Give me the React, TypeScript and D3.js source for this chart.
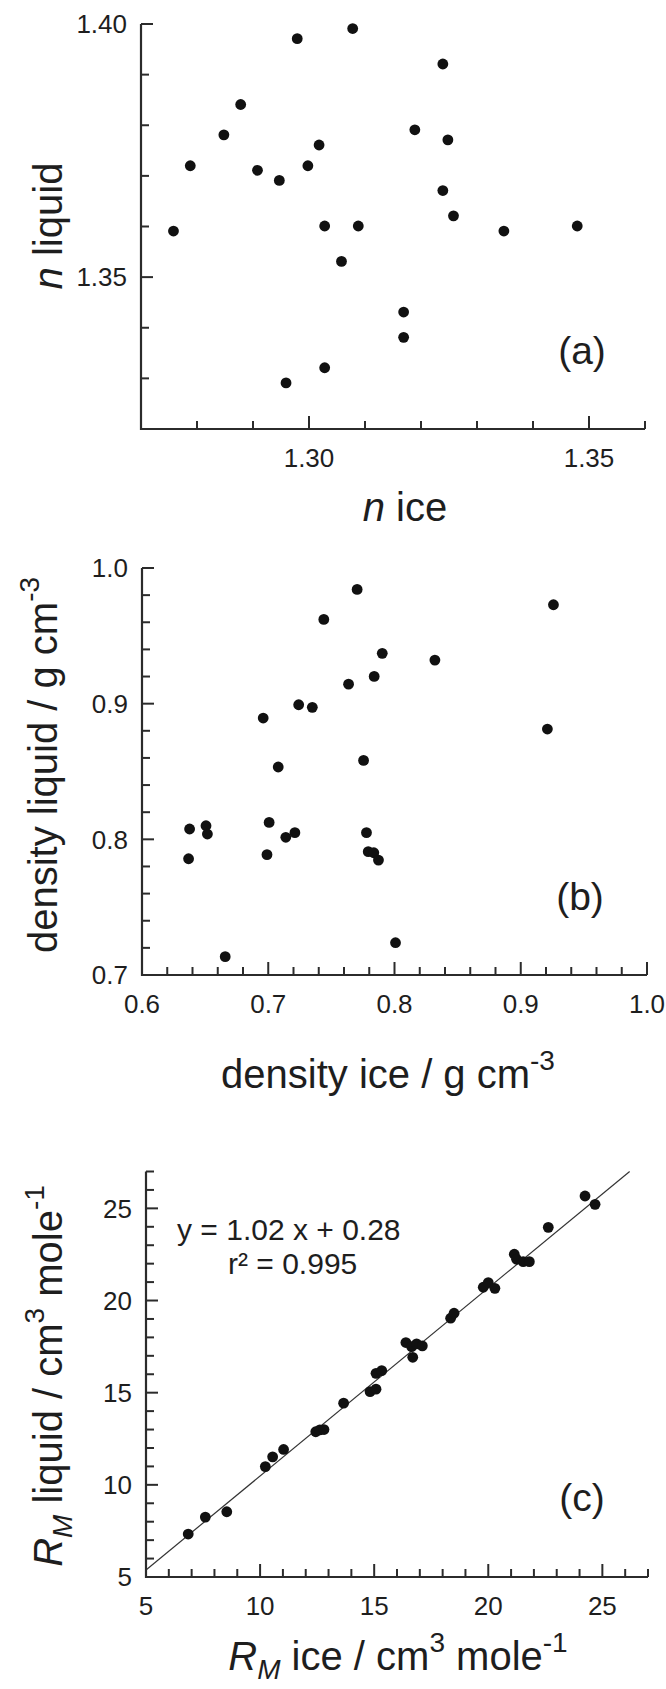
import React from "react";
import * as d3 from "d3";

// ---------- data ----------
// Panel (a): refractive index, ice vs liquid
const nIce = [1.2758, 1.2788, 1.2848, 1.2878, 1.2908, 1.2947, 1.2979, 1.2959, 1.2998, 1.3018, 1.3028, 1.3028, 1.3058, 1.3078, 1.3088, 1.3169, 1.3169, 1.3189, 1.3239, 1.3248, 1.3239, 1.3258, 1.3348, 1.3479];
const nLiquid = [1.3591, 1.3720, 1.3781, 1.3841, 1.3711, 1.3691, 1.3971, 1.3291, 1.3720, 1.3761, 1.3601, 1.3321, 1.3531, 1.3991, 1.3601, 1.3431, 1.3381, 1.3791, 1.3921, 1.3771, 1.3671, 1.3621, 1.3591, 1.3601];

// Panel (b): density, ice vs liquid
const densIce = [0.7704, 0.9259, 0.7440, 0.7903, 0.8320, 0.7839, 0.7636, 0.7241, 0.7349, 0.6960, 0.9211, 0.7079, 0.7755, 0.6377, 0.6369, 0.6507, 0.6518, 0.6659, 0.7007, 0.6990, 0.7139, 0.7211, 0.7778, 0.7792, 0.7836, 0.7873, 0.8008];
const densLiquid = [0.9842, 0.9729, 0.9621, 0.9371, 0.9321, 0.9201, 0.9144, 0.8992, 0.8973, 0.8894, 0.8813, 0.8533, 0.8582, 0.8076, 0.7857, 0.8100, 0.8039, 0.7135, 0.8125, 0.7887, 0.8015, 0.8049, 0.8049, 0.7909, 0.7901, 0.7847, 0.7238];

// Panel (c): molar refraction, ice vs liquid
const rmIce = [6.85, 7.60, 8.54, 10.23, 10.55, 11.03, 12.44, 12.62, 12.80, 13.66, 14.82, 15.08, 15.08, 15.33, 16.39, 16.64, 16.69, 16.86, 17.11, 18.35, 18.50, 19.78, 20.00, 20.29, 21.14, 21.24, 21.53, 21.80, 22.63, 24.24, 24.68];
const rmLiquid = [7.33, 8.25, 8.54, 10.99, 11.52, 11.92, 12.88, 12.98, 13.00, 14.43, 15.06, 15.19, 16.05, 16.20, 17.72, 17.50, 16.92, 17.65, 17.54, 19.04, 19.31, 20.72, 20.97, 20.66, 22.51, 22.24, 22.11, 22.11, 23.97, 25.67, 25.22];

// regression
const fitSlope = 1.02;
const fitIntercept = 0.28;
const fitR2 = "0.995";

// tick labels
const aXTicks = [1.30, 1.35];
const aYTicks = [1.35, 1.40];
const bXTicks = [0.6, 0.7, 0.8, 0.9, 1.0];
const bYTicks = [0.7, 0.8, 0.9, 1.0];
const cXTicks = [5, 10, 15, 20, 25];
const cYTicks = [5, 10, 15, 20, 25];

// ---------- style ----------
const FONT = "'Liberation Sans', Arial, Helvetica, sans-serif";
const INK = "#1e1e1e";
const AXIS = "#2b2b2b";
const TICK_FS = 26;
const TITLE_FS = 40;
const SUP_FS = 28;
const R = 5.4;

function frange(a: number, b: number, step: number) {
  const out: number[] = [];
  const n = Math.round((b - a) / step);
  for (let i = 0; i <= n; i++) out.push(+(a + i * step).toFixed(6));
  return out;
}

type PanelProps = {
  x: d3.ScaleLinear<number, number>;
  y: d3.ScaleLinear<number, number>;
  xMinor: number[];
  yMinor: number[];
  xMajor: number[];
  yMajor: number[];
  fmtX: (v: number) => string;
  fmtY: (v: number) => string;
  xs: number[];
  ys: number[];
  label: string;
  labelPos: [number, number];
};

function Panel(p: PanelProps) {
  const [x0, x1] = p.x.range();
  const [y0, y1] = p.y.range();
  const isMajor = (arr: number[], v: number) => arr.some((m) => Math.abs(m - v) < 1e-6);
  return (
    <g>
      {p.xs.map((d, i) => (
        <circle key={"pt" + i} cx={p.x(d)} cy={p.y(p.ys[i])} r={R} fill="#111" />
      ))}
      <line x1={x0} x2={x0} y1={y0 + 1} y2={y1} stroke={AXIS} strokeWidth={2.2} />
      <line x1={x0 - 1} x2={x1} y1={y0} y2={y0} stroke={AXIS} strokeWidth={2.2} />
      {p.yMinor.map((v, i) => {
        const L = isMajor(p.yMajor, v) ? 12 : 8;
        return <line key={"yt" + i} x1={x0} x2={x0 + L} y1={p.y(v)} y2={p.y(v)} stroke={AXIS} strokeWidth={2} />;
      })}
      {p.xMinor.map((v, i) => {
        const L = isMajor(p.xMajor, v) ? 13 : 8;
        return <line key={"xt" + i} x1={p.x(v)} x2={p.x(v)} y1={y0} y2={y0 - L} stroke={AXIS} strokeWidth={2} />;
      })}
      {p.yMajor.map((v, i) => (
        <text key={"yl" + i} x={x0 - 14} y={p.y(v)} dy="0.36em" textAnchor="end" fontSize={TICK_FS} fill={INK} fontFamily={FONT}>
          {p.fmtY(v)}
        </text>
      ))}
      {p.xMajor.map((v, i) => (
        <text key={"xl" + i} x={p.x(v)} y={y0 + 38} textAnchor="middle" fontSize={TICK_FS} fill={INK} fontFamily={FONT}>
          {p.fmtX(v)}
        </text>
      ))}
      <text x={p.labelPos[0]} y={p.labelPos[1]} dy="0.36em" textAnchor="middle" fontSize={39} fill={INK} fontFamily={FONT}>
        {p.label}
      </text>
    </g>
  );
}

export default function App() {
  // panel (a)
  const xa = d3.scaleLinear().domain([1.27, 1.36]).range([141, 645]);
  const ya = d3.scaleLinear().domain([1.32, 1.40]).range([429, 24]);
  // panel (b)
  const xb = d3.scaleLinear().domain([0.6, 1.0]).range([142, 647]);
  const yb = d3.scaleLinear().domain([0.7, 1.0]).range([975, 568]);
  // panel (c)
  const xc = d3.scaleLinear().domain([5, 27]).range([146, 648]);
  const yc = d3.scaleLinear().domain([5, 27]).range([1577, 1171.5]);

  const fitXEnd = (27 - fitIntercept) / fitSlope;
  const fitLine = d3.line<number>().x((d) => xc(d)).y((d) => yc(fitSlope * d + fitIntercept));

  return (
    <svg width={666} height={1689} style={{ position: "absolute", left: 0, top: 0, background: "#fff" }} fontFamily={FONT}>
      <rect width={666} height={1689} fill="#fff" />

      {/* Panel (a) */}
      <Panel
        x={xa}
        y={ya}
        xMinor={frange(1.27, 1.36, 0.01)}
        yMinor={frange(1.32, 1.40, 0.01)}
        xMajor={aXTicks}
        yMajor={aYTicks}
        fmtX={d3.format(".2f")}
        fmtY={d3.format(".2f")}
        xs={nIce}
        ys={nLiquid}
        label="(a)"
        labelPos={[582, 350]}
      />
      <text transform="translate(62,226) rotate(-90)" textAnchor="middle" fontSize={TITLE_FS} fill={INK}>
        <tspan fontStyle="italic">n</tspan> liquid
      </text>
      <text x={405} y={521} textAnchor="middle" fontSize={TITLE_FS} fill={INK}>
        <tspan fontStyle="italic">n</tspan> ice
      </text>

      {/* Panel (b) */}
      <Panel
        x={xb}
        y={yb}
        xMinor={frange(0.6, 1.0, 0.02)}
        yMinor={frange(0.7, 1.0, 0.02).filter((v) => v <= 1.0)}
        xMajor={bXTicks}
        yMajor={bYTicks}
        fmtX={d3.format(".1f")}
        fmtY={d3.format(".1f")}
        xs={densIce}
        ys={densLiquid}
        label="(b)"
        labelPos={[580, 896]}
      />
      <text transform="translate(57,765) rotate(-90)" textAnchor="middle" fontSize={TITLE_FS} fill={INK}>
        density liquid / g cm<tspan fontSize={SUP_FS} dy={-18}>-3</tspan>
      </text>
      <text x={388} y={1088} textAnchor="middle" fontSize={TITLE_FS} fill={INK}>
        density ice / g cm<tspan fontSize={SUP_FS} dy={-18}>-3</tspan>
      </text>

      {/* Panel (c) */}
      <path d={fitLine([5, fitXEnd]) || ""} stroke="#333" strokeWidth={1.2} fill="none" />
      <Panel
        x={xc}
        y={yc}
        xMinor={frange(5, 27, 1)}
        yMinor={frange(5, 27, 1)}
        xMajor={cXTicks}
        yMajor={cYTicks}
        fmtX={d3.format("d")}
        fmtY={d3.format("d")}
        xs={rmIce}
        ys={rmLiquid}
        label="(c)"
        labelPos={[582, 1497]}
      />
      <text x={177} y={1240} textAnchor="start" fontSize={30} fill={INK}>
        y = {fitSlope.toFixed(2)} x + {fitIntercept.toFixed(2)}
      </text>
      <text x={228} y={1274} textAnchor="start" fontSize={30} fill={INK}>
        r² = {fitR2}
      </text>
      <text transform="translate(62,1376) rotate(-90)" textAnchor="middle" fontSize={TITLE_FS} fill={INK}>
        <tspan fontStyle="italic">R</tspan>
        <tspan fontStyle="italic" fontSize={SUP_FS} dy={10}>M</tspan>
        <tspan dy={-10}> liquid / cm</tspan>
        <tspan fontSize={SUP_FS} dy={-18}>3</tspan>
        <tspan dy={18}> mole</tspan>
        <tspan fontSize={SUP_FS} dy={-18}>-1</tspan>
      </text>
      <text x={398} y={1670} textAnchor="middle" fontSize={TITLE_FS} fill={INK}>
        <tspan fontStyle="italic">R</tspan>
        <tspan fontStyle="italic" fontSize={SUP_FS} dy={9}>M</tspan>
        <tspan dy={-9}> ice / cm</tspan>
        <tspan fontSize={SUP_FS} dy={-18}>3</tspan>
        <tspan dy={18}> mole</tspan>
        <tspan fontSize={SUP_FS} dy={-18}>-1</tspan>
      </text>
    </svg>
  );
}
